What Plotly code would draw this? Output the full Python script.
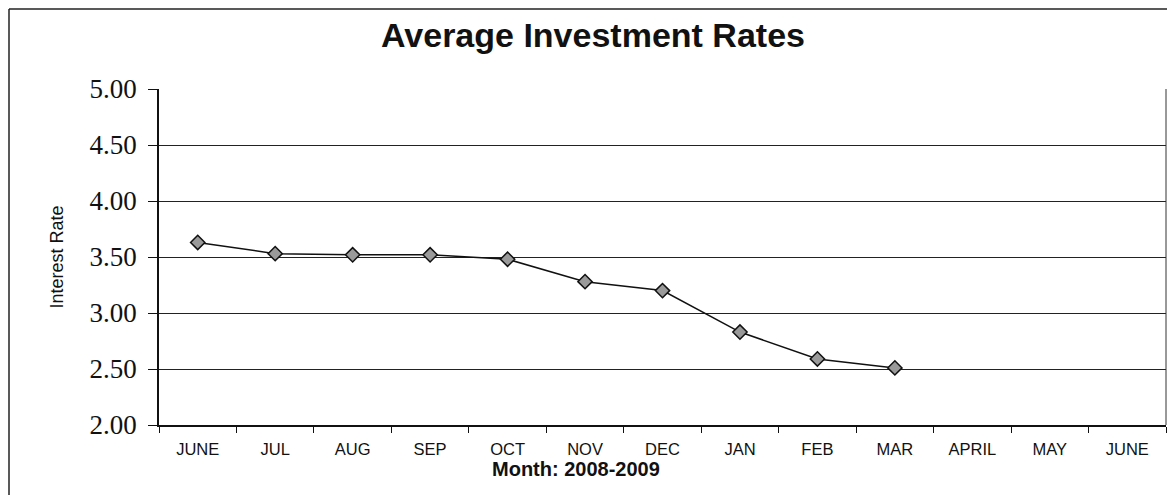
import plotly.graph_objects as go

months = ["JUNE", "JUL", "AUG", "SEP", "OCT", "NOV", "DEC", "JAN", "FEB", "MAR", "APRIL", "MAY", "JUNE"]
rates = [3.63, 3.53, 3.52, 3.52, 3.48, 3.28, 3.20, 2.83, 2.59, 2.51]
y_ticks = [2.0, 2.5, 3.0, 3.5, 4.0, 4.5, 5.0]

xpos = list(range(len(months)))

# plot area in page pixels (page body has an 8px margin)
OFF = 8
PL, PR, PT, PB = 159, 1166, 89, 425
PW, PH = PR - PL, PB - PT


def px(x):
    return (x - PL) / PW


def py(y):
    return (PB - y) / PH


fig = go.Figure()
fig.add_trace(go.Scatter(
    x=xpos[:len(rates)], y=rates, mode="lines+markers",
    line=dict(color="#111111", width=1.5),
    marker=dict(symbol="diamond", size=11, color="#9a9a9a",
                line=dict(color="#111111", width=1.5)),
    showlegend=False,
))

fig.update_layout(
    width=1175, height=495,
    margin=dict(l=PL - OFF, r=1175 + OFF - PR, t=PT - OFF, b=495 + OFF - PB),
    paper_bgcolor="white", plot_bgcolor="white",
    font=dict(family="Liberation Sans, Arial, sans-serif", color="#111111"),
    title=dict(text="<b>Average Investment Rates</b>", x=(593 - OFF) / 1175, xanchor="center",
               y=1 - (35 - OFF) / 495, yanchor="middle", font=dict(size=34, color="#111111")),
    xaxis=dict(
        range=[-0.5, 12.5], tickvals=xpos, ticktext=months,
        ticks="", showgrid=False, zeroline=False,
        showline=True, linecolor="#111111", linewidth=1.5, mirror=False,
        tickfont=dict(size=16.5), ticklabelstandoff=8,
        minor=dict(tickvals=[i - 0.5 for i in range(len(months) + 1)],
                   ticks="outside", ticklen=6, tickcolor="#111111", tickwidth=1,
                   showgrid=False),
    ),
    yaxis=dict(
        range=[2.0, 5.0], tickvals=y_ticks, ticktext=[f"{v:.2f}" for v in y_ticks],
        ticks="outside", ticklen=9, tickcolor="#111111",
        showgrid=True, gridcolor="#222222", gridwidth=1, zeroline=False,
        showline=True, linecolor="#111111", linewidth=1.5,
        tickfont=dict(size=27, family="Liberation Serif, Times New Roman, serif"),
        ticklabelstandoff=6,
        title=dict(text="Interest Rate", font=dict(size=18), standoff=21),
    ),
    annotations=[
        dict(text="<b>Month: 2008-2009</b>", xref="paper", yref="paper",
             x=px(576), y=py(469), xanchor="center", yanchor="middle",
             showarrow=False, font=dict(size=20, color="#111111")),
    ],
    shapes=[
        dict(type="line", xref="paper", yref="paper", x0=1, x1=1, y0=0, y1=1,
             line=dict(color="#333333", width=1)),
        dict(type="line", xref="paper", yref="paper",
             x0=px(OFF + 1), x1=px(1185),
             y0=py(OFF + 1), y1=py(OFF + 1),
             line=dict(color="#222222", width=1.5)),
        dict(type="line", xref="paper", yref="paper",
             x0=px(OFF + 1), x1=px(OFF + 1),
             y0=py(OFF + 1), y1=py(510),
             line=dict(color="#222222", width=1.5)),
    ],
)

fig.write_html("out.html")
